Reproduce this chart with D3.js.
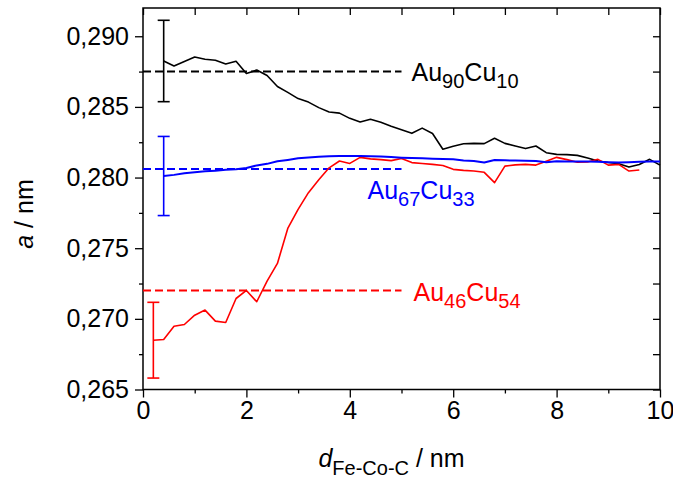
<!DOCTYPE html>
<html>
<head>
<meta charset="utf-8">
<script src="https://cdn.jsdelivr.net/npm/d3@7/dist/d3.min.js"></script>
<style>
  html, body { margin: 0; padding: 0; background: #fff; }
  svg { display: block; font-family: "Liberation Sans", Arial, sans-serif; }
</style>
</head>
<body>
<svg id="chart" width="673" height="479"></svg>
<script>
// Distance grid (nm)
const dist = [0.2,0.4,0.6,0.8,1.0,1.2,1.4,1.6,1.8,2.0,2.2,2.4,2.6,2.8,3.0,3.2,3.4,3.6,3.8,4.0,
  4.2,4.4,4.6,4.8,5.0,5.2,5.4,5.6,5.8,6.0,6.2,6.4,6.6,6.8,7.0,7.2,7.4,7.6,7.8,8.0,
  8.2,8.4,8.6,8.8,9.0,9.2,9.4,9.6,9.8,10.0];

// Lattice parameter a (nm) per alloy
const au90 = [0.28825,0.28790,0.28822,0.28853,0.28837,0.28830,0.28804,0.28823,0.28736,0.28761,
  0.28722,0.28644,0.28603,0.28559,0.28534,0.28495,0.28464,0.28456,0.28419,0.28393,
  0.28412,0.28391,0.28363,0.28338,0.28313,0.28350,0.28312,0.28200,0.28221,0.28239,
  0.28242,0.28240,0.28278,0.28242,0.28223,0.28205,0.28223,0.28176,0.28164,0.28162,
  0.28157,0.28138,0.28117,0.28106,0.28098,0.28074,0.28093,0.28129,0.28088];
const au67 = [0.28011,0.28019,0.28030,0.28037,0.28044,0.28049,0.28055,0.28059,0.28067,0.28086,
  0.28097,0.28115,0.28125,0.28136,0.28142,0.28147,0.28150,0.28152,0.28152,0.28152,
  0.28151,0.28149,0.28145,0.28141,0.28138,0.28136,0.28133,0.28131,0.28129,0.28120,
  0.28117,0.28106,0.28124,0.28122,0.28120,0.28119,0.28117,0.28108,0.28115,0.28113,
  0.28113,0.28113,0.28111,0.28108,0.28106,0.28109,0.28111,0.28113,0.28113];
const au46 = [0.26849,0.26854,0.26948,0.26960,0.27026,0.27062,0.26984,0.26974,0.27144,0.27201,
  0.27121,0.27267,0.27392,0.27640,0.27775,0.27893,0.27984,0.28069,0.28117,0.28100,
  0.28143,0.28132,0.28127,0.28120,0.28135,0.28106,0.28100,0.28093,0.28085,0.28058,
  0.28051,0.28046,0.28037,0.27964,0.28081,0.28090,0.28093,0.28088,0.28115,0.28143,
  0.28127,0.28108,0.28110,0.28129,0.28088,0.28093,0.28046,0.28053];

// Bulk reference values, their extent, and error of the first point
const refValues = [0.2875, 0.2806, 0.2720];
const refEnd = 5.0;
const errors = [0.00288, 0.0028, 0.00268];

const seriesNames = [["Au","90","Cu","10"], ["Au","67","Cu","33"], ["Au","46","Cu","54"]];
const colors = ["#000000", "#0000ff", "#ff0000"];

const xMajor = [0, 2, 4, 6, 8, 10];
const xMinor = [1, 3, 5, 7, 9];
const yMajor = [0.265, 0.270, 0.275, 0.280, 0.285, 0.290];
const yMinor = [0.2675, 0.2725, 0.2775, 0.2825, 0.2875];

const series = [
  { x: dist.slice(1), y: au90 },
  { x: dist.slice(1), y: au67 },
  { x: dist.slice(0, 48), y: au46 }
];

const svg = d3.select("#chart");
const x = d3.scaleLinear().domain([0, 10]).range([143, 660]);
const y = d3.scaleLinear().domain([0.265, 0.292]).range([389.5, 8]);

const fmt = v => d3.format(".3f")(v).replace(".", ",");

function styleAxis(g) {
  g.select(".domain").remove();
  g.selectAll(".tick line").attr("stroke", "#000").attr("stroke-width", 1.3);
  g.selectAll(".tick text").attr("fill", "#000").attr("font-size", 25)
    .attr("font-family", "'Liberation Sans', Arial, sans-serif");
}

// Bottom axis
svg.append("g").attr("transform", `translate(0,${y.range()[0]})`)
  .call(d3.axisBottom(x).tickValues(xMajor).tickSize(8).tickPadding(4).tickFormat(d3.format("d")))
  .call(styleAxis);
svg.append("g").attr("transform", `translate(0,${y.range()[0]})`)
  .call(d3.axisBottom(x).tickValues(xMinor).tickSize(4).tickFormat(""))
  .call(styleAxis);
// Top axis (inward ticks)
svg.append("g").attr("transform", `translate(0,${y.range()[1]})`)
  .call(d3.axisTop(x).tickValues(xMajor.concat(xMinor)).tickSize(-7).tickFormat(""))
  .call(styleAxis);
// Left axis
svg.append("g").attr("transform", `translate(${x.range()[0]},0)`)
  .call(d3.axisLeft(y).tickValues(yMajor).tickSize(8).tickPadding(6).tickFormat(fmt))
  .call(styleAxis);
svg.append("g").attr("transform", `translate(${x.range()[0]},0)`)
  .call(d3.axisLeft(y).tickValues(yMinor).tickSize(4).tickFormat(""))
  .call(styleAxis);
// Right axis (inward ticks)
svg.append("g").attr("transform", `translate(${x.range()[1]},0)`)
  .call(d3.axisRight(y).tickValues(yMajor.concat(yMinor)).tickSize(-7).tickFormat(""))
  .call(styleAxis);

// Frame
svg.append("rect")
  .attr("x", x.range()[0]).attr("y", y.range()[1])
  .attr("width", x.range()[1] - x.range()[0])
  .attr("height", y.range()[0] - y.range()[1])
  .attr("fill", "none").attr("stroke", "#000").attr("stroke-width", 1.5);

// Dashed bulk reference lines
svg.append("g").selectAll("line").data(refValues).join("line")
  .attr("x1", x(0)).attr("x2", x(refEnd))
  .attr("y1", d => y(d)).attr("y2", d => y(d))
  .attr("stroke", (d, i) => colors[i]).attr("stroke-width", 2)
  .attr("stroke-dasharray", "8,4");

// Profiles
const line = d3.line().x(d => x(d[0])).y(d => y(d[1]));
const order = [0, 2, 1];
svg.append("g").selectAll("path").data(order).join("path")
  .attr("d", i => line(series[i].x.map((v, k) => [v, series[i].y[k]])))
  .attr("fill", "none").attr("stroke", i => colors[i])
  .attr("stroke-width", i => i === 1 ? 2 : 1.6)
  .attr("stroke-linejoin", "round");

// Error bars on the first point of each profile
const eb = svg.append("g");
series.forEach((s, i) => {
  const cx = x(s.x[0]), v = s.y[0], e = errors[i];
  const g = eb.append("g").attr("stroke", colors[i]).attr("stroke-width", 1.6);
  g.append("line").attr("x1", cx).attr("x2", cx).attr("y1", y(v - e)).attr("y2", y(v + e));
  [v - e, v + e].forEach(t => g.append("line")
    .attr("x1", cx - 6).attr("x2", cx + 6).attr("y1", y(t)).attr("y2", y(t)));
});

// Alloy labels
const labelPos = [
  { x: x(refEnd) + 10, y: y(refValues[0]) + 9 },
  { x: x(refEnd) - 34, y: y(refValues[1]) + 30 },
  { x: x(refEnd) + 12, y: y(refValues[2]) + 10 }
];
seriesNames.forEach((parts, i) => {
  const t = svg.append("text").attr("x", labelPos[i].x).attr("y", labelPos[i].y)
    .attr("fill", colors[i]).attr("font-size", 25);
  t.append("tspan").text(parts[0]);
  t.append("tspan").attr("dy", 7).attr("font-size", 20).text(parts[1]);
  t.append("tspan").attr("dy", -7).text(parts[2]);
  t.append("tspan").attr("dy", 7).attr("font-size", 20).text(parts[3]);
});

// Axis titles
const xt = svg.append("text").attr("x", (x.range()[0] + x.range()[1]) / 2 - 10).attr("y", 467)
  .attr("text-anchor", "middle").attr("font-size", 25).attr("fill", "#000");
xt.append("tspan").attr("font-style", "italic").text("d");
xt.append("tspan").attr("dy", 8).attr("font-size", 20).text("Fe-Co-C");
xt.append("tspan").attr("dy", -8).text(" / nm");

const yt = svg.append("text").attr("transform", "translate(33,214) rotate(-90)")
  .attr("text-anchor", "middle").attr("font-size", 25).attr("fill", "#000");
yt.append("tspan").attr("font-style", "italic").text("a");
yt.append("tspan").text(" / nm");
</script>
</body>
</html>
